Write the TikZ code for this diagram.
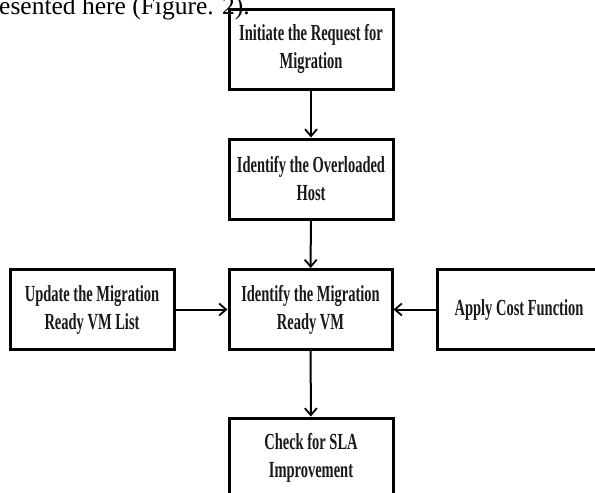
\documentclass[tikz,border=0pt]{standalone}
\usepackage{fontspec}
\setmainfont{Liberation Serif}
\newfontfamily\boxfont[FakeStretch=0.63]{Liberation Serif}
\usetikzlibrary{arrows.meta}
\tikzset{
  stepbox/.style={draw=black, line width=3pt, minimum width=164pt, minimum height=80pt,
    inner sep=0pt, align=center, text=black!90,
    font=\boxfont\bfseries\fontsize{23}{28}\selectfont},
  arr/.style={draw=black, line width=2pt, -{Straight Barb[length=7pt,width=12pt,line width=1.8pt]}}
}
\begin{document}
\begin{tikzpicture}[x=1pt,y=-1pt]
\useasboundingbox (0,0) rectangle (595,493);
\clip (0,0) rectangle (595,493);
\node[anchor=base west, inner sep=0pt, font=\fontsize{25.5}{30}\selectfont] (cap) at (-1,14) {esented here (Figure. 2).};
\node[stepbox] (init) at (311,49) {Initiate the Request for\\Migration};
\node[stepbox] (over) at (311,179) {Identify the Overloaded\\Host};
\node[stepbox, minimum width=163pt] (ready) at (310.5,309.5) {Identify the Migration\\Ready VM};
\node[stepbox] (upd) at (92,309.5) {Update the Migration\\Ready VM List};
\node[stepbox] (cost) at (519,309.5) {Apply Cost Function};
\node[stepbox] (sla) at (311,458) {Check for SLA\\Improvement};
\draw[arr] (init) -- (over);
\draw[arr] (over) -- (ready);
\draw[arr] (upd) -- (ready);
\draw[arr] (cost) -- (ready);
\draw[arr] (ready) -- (sla);
\end{tikzpicture}
\end{document}
